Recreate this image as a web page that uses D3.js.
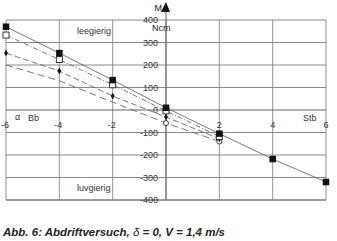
<!DOCTYPE html>
<html><head><meta charset="utf-8">
<script src="https://cdn.jsdelivr.net/npm/d3@7"></script>
<style>
html,body{margin:0;padding:0;background:#fff;}
svg{display:block;font-family:"Liberation Sans",Arial,sans-serif;}
</style></head>
<body><svg id="c" width="337" height="241"></svg>
<script>
// ---- data ----
const xTicks = [-6, -4, -2, 2, 4, 6];
const yTicks = [400, 300, 200, 100, 0, -100, -200, -300, -400];
const yTickLabels = ["400", "300", "200", "100", "0", "-100", "-200", "-300", "-400"];
const xA = [-6, -4, -2, 0, 2, 4, 6];
const seriesA = [370, 253, 133, 10, -105, -218, -320];   // filled squares
const xB = [-6, -4, -2, 0, 2];
const seriesB = [333, 224, 112, -4, -118];               // open squares
const xC = [-6, -4, -2, 0, 2];
const seriesC = [253, 173, 62, -31, -128];                // diamonds
const xD = [-6, -4, -2, 0, 2];
const seriesD = [200, 130, 35, -58, -140];                // open circles
const markedD = [false, false, false, true, true];

const svg = d3.select("#c");
const x = d3.scaleLinear().domain([-6, 6]).range([6, 326]);
const y = d3.scaleLinear().domain([-400, 400]).range([200, 20]);

const gridColor = "#7a7a7a";
const g = svg.append("g");
g.selectAll("line.v").data(d3.range(-6, 7, 2)).enter().append("line")
  .attr("x1", d => x(d)).attr("x2", d => x(d)).attr("y1", y(400)).attr("y2", y(-400))
  .attr("stroke", gridColor).attr("stroke-width", 0.8);
g.selectAll("line.h").data(yTicks).enter().append("line")
  .attr("x1", x(-6)).attr("x2", x(6)).attr("y1", d => y(d)).attr("y2", d => y(d))
  .attr("stroke", d => d === 0 ? "#555" : gridColor).attr("stroke-width", d => (d === -400 ? 1.3 : 0.9));

// y axis line and arrow
svg.append("line").attr("x1", x(0)).attr("x2", x(0)).attr("y1", 10).attr("y2", y(-400))
  .attr("stroke", "#555").attr("stroke-width", 0.9);
svg.append("path").attr("d", `M${x(0)-5},12 L${x(0)},2 L${x(0)+4},12 Z`).attr("fill", "#111");
svg.append("text").attr("x", x(0) - 4).attr("y", 11).attr("text-anchor", "end")
  .attr("font-size", 9).attr("fill", "#222").text("M");
svg.append("text").attr("x", 152).attr("y", 31)
  .attr("font-size", 9).attr("fill", "#222").text("Ncm");

// y tick labels
svg.selectAll("text.yt").data(yTicks).enter().append("text")
  .attr("x", x(0) - 8).attr("y", d => y(d) + 3.2).attr("text-anchor", "end")
  .attr("font-size", 9).attr("fill", "#333")
  .text((d, i) => yTickLabels[i]);

// x tick labels
svg.selectAll("text.xt").data(xTicks).enter().append("text")
  .attr("x", d => x(d) + (d < 0 ? -1 : 0)).attr("y", 128).attr("text-anchor", "middle")
  .attr("font-size", 9).attr("fill", "#333").text(d => d);

// axis labels
svg.append("text").attr("x", 15).attr("y", 120).attr("font-size", 9).attr("fill", "#333").text("α");
svg.append("text").attr("x", 28).attr("y", 121).attr("font-size", 9).attr("fill", "#333").text("Bb");
svg.append("text").attr("x", 303).attr("y", 121).attr("font-size", 9).attr("fill", "#333").text("Stb");
svg.append("text").attr("x", 77).attr("y", 34).attr("font-size", 9).attr("fill", "#333").text("leegierig");
svg.append("text").attr("x", 77).attr("y", 191).attr("font-size", 9).attr("fill", "#333").text("luvgierig");

// lines
const line = (xs) => d3.line().x((d, i) => x(xs[i])).y(d => y(d));
function drawLine(xs, vals, dash, w) {
  svg.append("path").attr("d", line(xs)(vals)).attr("fill", "none")
    .attr("stroke", "#555").attr("stroke-width", w).attr("stroke-dasharray", dash);
}
drawLine(xD, seriesD, "7,4", 0.8);
drawLine(xC, seriesC, "6,3", 0.8);
drawLine(xB, seriesB, "5,2,1,2", 0.8);
drawLine(xA, seriesA, null, 0.8);

// markers
const xDm = xD.filter((v, j) => markedD[j]);
svg.selectAll("circle.d").data(seriesD.filter((d, i) => markedD[i])).enter().append("circle")
  .attr("cx", (d, i) => x(xDm[i])).attr("cy", d => y(d)).attr("r", 2.5)
  .attr("fill", "#fff").attr("stroke", "#222").attr("stroke-width", 0.9);
svg.selectAll("path.c").data(seriesC).enter().append("path")
  .attr("d", d3.symbol().type(d3.symbolDiamond).size(13))
  .attr("transform", (d, i) => `translate(${x(xC[i])},${y(d)})`).attr("fill", "#111");
svg.selectAll("rect.b").data(seriesB).enter().append("rect")
  .attr("x", (d, i) => x(xB[i]) - 3).attr("y", d => y(d) - 3).attr("width", 6).attr("height", 6)
  .attr("fill", "#fff").attr("stroke", "#222").attr("stroke-width", 0.9);
svg.selectAll("rect.a").data(seriesA).enter().append("rect")
  .attr("x", (d, i) => x(xA[i]) - 3.25).attr("y", d => y(d) - 3.25).attr("width", 6.5).attr("height", 6.5)
  .attr("fill", "#111");

// caption
const cap = svg.append("text").attr("x", 3).attr("y", 236).attr("font-size", 11.5)
  .attr("font-weight", "bold").attr("font-style", "italic").attr("fill", "#222");
cap.append("tspan").text("Abb. 6: Abdriftversuch, ");
cap.append("tspan").attr("font-weight", "normal").text("δ");
cap.append("tspan").text(" = 0, V = 1,4 m/s");
</script></body></html>
